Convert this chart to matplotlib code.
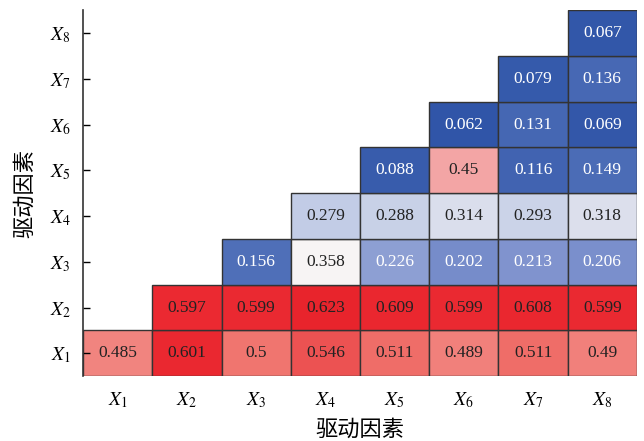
import numpy as np
import matplotlib
matplotlib.use("Agg")
import matplotlib.pyplot as plt
import matplotlib.colors as colors
from matplotlib.patches import Rectangle

plt.rcParams['mathtext.fontset'] = 'stix'
plt.rcParams['font.family'] = ['Liberation Serif', 'Noto Sans CJK SC']

# factor labels and values, one row per y factor (X1 at bottom)
factors = ['X1', 'X2', 'X3', 'X4', 'X5', 'X6', 'X7', 'X8']
row_x1 = [0.485, 0.601, 0.5, 0.546, 0.511, 0.489, 0.511, 0.49]
row_x2 = [0.597, 0.599, 0.623, 0.609, 0.599, 0.608, 0.599]
row_x3 = [0.156, 0.358, 0.226, 0.202, 0.213, 0.206]
row_x4 = [0.279, 0.288, 0.314, 0.293, 0.318]
row_x5 = [0.088, 0.45, 0.116, 0.149]
row_x6 = [0.062, 0.131, 0.069]
row_x7 = [0.079, 0.136]
row_x8 = [0.067]
rows = [row_x1, row_x2, row_x3, row_x4, row_x5, row_x6, row_x7, row_x8]
axis_label = '驱动因素'

n = len(factors)

# diverging map (blue low, white mid, red high)
vmin, vmax = 0.06, 0.625
nodes = [(0.06, (48, 85, 168)), (0.15, (75, 108, 182)), (0.21, (125, 145, 205)),
		 (0.28, (195, 205, 230)), (0.36, (248, 244, 244)), (0.45, (243, 165, 165)),
		 (0.5, (240, 118, 112)), (0.55, (236, 80, 80)), (0.595, (235, 42, 50)),
		 (0.625, (232, 36, 44))]
cmap = colors.LinearSegmentedColormap.from_list(
	'drv', [((v - vmin) / (vmax - vmin), tuple(c / 255 for c in rgb)) for v, rgb in nodes])
norm = colors.Normalize(vmin=vmin, vmax=vmax)

fig = plt.figure(figsize=(6.44, 4.41), dpi=100)
ax = fig.add_axes([0.129, 0.147, 0.860, 0.830])

for i, r in enumerate(rows):
	for k, v in enumerate(r):
		j = i + k
		ax.add_patch(Rectangle((j, i), 1, 1, facecolor=cmap(norm(v)),
							   edgecolor='#333333', linewidth=1.0))
		ax.text(j + 0.5, i + 0.5, '{:g}'.format(v), ha='center', va='center', fontsize=12.5,
				color='white' if v < 0.25 else '#222222')

ticklabels = ['$X_{%s}$' % f[1:] for f in factors]
ax.set_xlim(0, n)
ax.set_ylim(0, n)
ax.set_xticks(np.arange(n) + 0.5)
ax.set_xticklabels(ticklabels, fontsize=14)
ax.set_yticks(np.arange(n) + 0.5)
ax.set_yticklabels(ticklabels, fontsize=14)
ax.tick_params(axis='x', length=0, pad=10)
ax.tick_params(axis='y', direction='in', length=5, width=1, pad=9)

for side in ['top', 'right', 'bottom']:
	ax.spines[side].set_visible(False)
ax.spines['left'].set_linewidth(1.2)
ax.spines['left'].set_color('#333333')

ax.set_xlabel(axis_label, fontsize=16, family=['Noto Sans CJK SC'], labelpad=6)
ax.set_ylabel(axis_label, fontsize=16, family=['Noto Sans CJK SC'], labelpad=10)

fig.savefig('out.png', dpi=100)
